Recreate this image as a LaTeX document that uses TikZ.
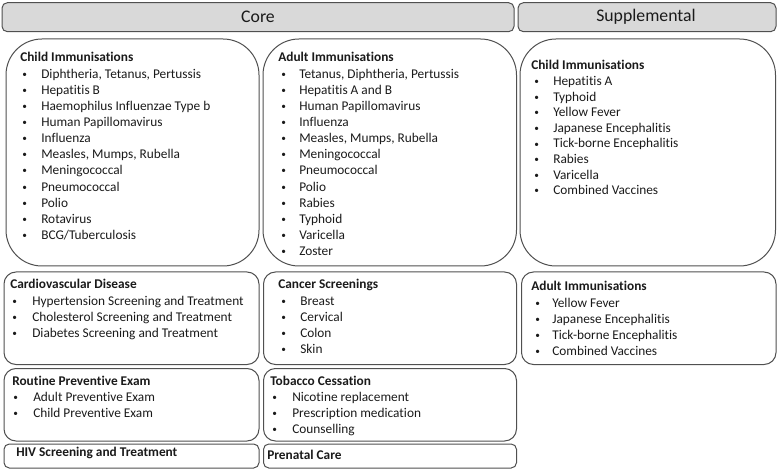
\documentclass[tikz,border=0pt]{standalone}
\usepackage{fontspec}
\setmainfont{Carlito}[Ligatures=NoCommon]
\usepackage{array}
\usepackage{graphicx}
\definecolor{edge}{HTML}{505050}
\definecolor{headfill}{HTML}{D9D9D9}
\definecolor{ink}{HTML}{1A1A1A}
% one bullet row, and a titled list of rows
\newcommand{\dotmark}{\raisebox{0.7pt}{\scalebox{0.7}{\textbullet}}}
\newcommand{\itm}[1]{\dotmark & #1\\}
\newcommand{\itemlist}[4]{%
  \begin{tabular}[t]{@{}>{\hspace*{#1}}p{#2}@{}l@{}}
    \multicolumn{2}{@{}l@{}}{\textbf{#3}}\\
    #4
  \end{tabular}}
\begin{document}
\begin{tikzpicture}[x=0.75pt,y=-0.75pt,
    headbox/.style={draw=edge,line width=0.75pt,fill=headfill,rounded corners=4pt},
    headtxt/.style={text=ink,inner sep=0pt,font=\fontsize{13.3}{16}\selectfont},
    bigbox/.style={draw=edge,line width=0.75pt,rounded corners=27pt},
    midbox/.style={draw=edge,line width=0.75pt,rounded corners=9pt},
    slimbox/.style={draw=edge,line width=0.75pt,rounded corners=4pt},
    listtxt/.style={anchor=base west,inner sep=0pt,text=ink,font=\fontsize{10}{12.1}\selectfont}]
  \useasboundingbox (0,0) rectangle (778,470);

  % headers
  \draw[headbox] (2,2.7) rectangle (514,31.7);
  \draw[headbox] (518,2.7) rectangle (776,31.7);
  \node[headtxt] (core) at (258,17) {Core};
  \node[headtxt] (supp) at (646,17) {Supplemental};

  % boxes
  \draw[bigbox] (6,39) rectangle (259,266);
  \draw[bigbox] (263,39) rectangle (516.5,266);
  \draw[bigbox] (520,39) rectangle (775.5,266);
  \draw[midbox] (4,272) rectangle (259,364.5);
  \draw[midbox] (263.5,272) rectangle (516.5,364.5);
  \draw[midbox] (521.5,272) rectangle (776,364.5);
  \draw[midbox] (4,368.5) rectangle (259,441);
  \draw[midbox] (263.5,368.5) rectangle (516.5,441);
  \draw[slimbox] (4,444) rectangle (259,468);
  \draw[slimbox] (263.5,444) rectangle (516.5,468);

  % core
  \node[listtxt] (childimm) at (20,62) {\itemlist{1.5pt}{15.75pt}{Child Immunisations}{%
    \itm{Diphtheria, Tetanus, Pertussis}
    \itm{Hepatitis B}
    \itm{Haemophilus Influenzae Type b}
    \itm{Human Papillomavirus}
    \itm{Influenza}
    \itm{Measles, Mumps, Rubella}
    \itm{Meningococcal}
    \itm{Pneumococcal}
    \itm{Polio}
    \itm{Rotavirus}
    \itm{BCG/Tuberculosis}}};
  \node[listtxt] (adultimm) at (278,62) {\itemlist{2.25pt}{15.75pt}{Adult Immunisations}{%
    \itm{Tetanus, Diphtheria, Pertussis}
    \itm{Hepatitis A and B}
    \itm{Human Papillomavirus}
    \itm{Influenza}
    \itm{Measles, Mumps, Rubella}
    \itm{Meningococcal}
    \itm{Pneumococcal}
    \itm{Polio}
    \itm{Rabies}
    \itm{Typhoid}
    \itm{Varicella}
    \itm{Zoster}}};
  \node[listtxt] (cardio) at (10,289) {\itemlist{1.5pt}{16.5pt}{Cardiovascular Disease}{%
    \itm{Hypertension Screening and Treatment}
    \itm{Cholesterol Screening and Treatment}
    \itm{Diabetes Screening and Treatment}}};
  \node[listtxt] (cancer) at (278,289) {\itemlist{2.25pt}{16.5pt}{Cancer Screenings}{%
    \itm{Breast}
    \itm{Cervical}
    \itm{Colon}
    \itm{Skin}}};
  \node[listtxt] (routine) at (12,385) {\itemlist{0.75pt}{15.75pt}{Routine Preventive Exam}{%
    \itm{Adult Preventive Exam}
    \itm{Child Preventive Exam}}};
  \node[listtxt] (tobacco) at (270,385) {\itemlist{1.5pt}{16.5pt}{Tobacco Cessation}{%
    \itm{Nicotine replacement}
    \itm{Prescription medication}
    \itm{Counselling}}};
  \node[listtxt] (hiv) at (16,456) {\textbf{HIV Screening and Treatment}};
  \node[listtxt] (prenatal) at (267,459) {\textbf{Prenatal Care}};

  % supplemental
  \node[listtxt,font=\fontsize{10}{11.7}\selectfont] (suppchild) at (531,70) {\itemlist{2.25pt}{16.5pt}{Child Immunisations}{%
    \itm{Hepatitis A}
    \itm{Typhoid}
    \itm{Yellow Fever}
    \itm{Japanese Encephalitis}
    \itm{Tick-borne Encephalitis}
    \itm{Rabies}
    \itm{Varicella}
    \itm{Combined Vaccines}}};
  \node[listtxt] (suppadult) at (531,291) {\itemlist{3pt}{15.75pt}{Adult Immunisations}{%
    \itm{Yellow Fever}
    \itm{Japanese Encephalitis}
    \itm{Tick-borne Encephalitis}
    \itm{Combined Vaccines}}};
\end{tikzpicture}
\end{document}
